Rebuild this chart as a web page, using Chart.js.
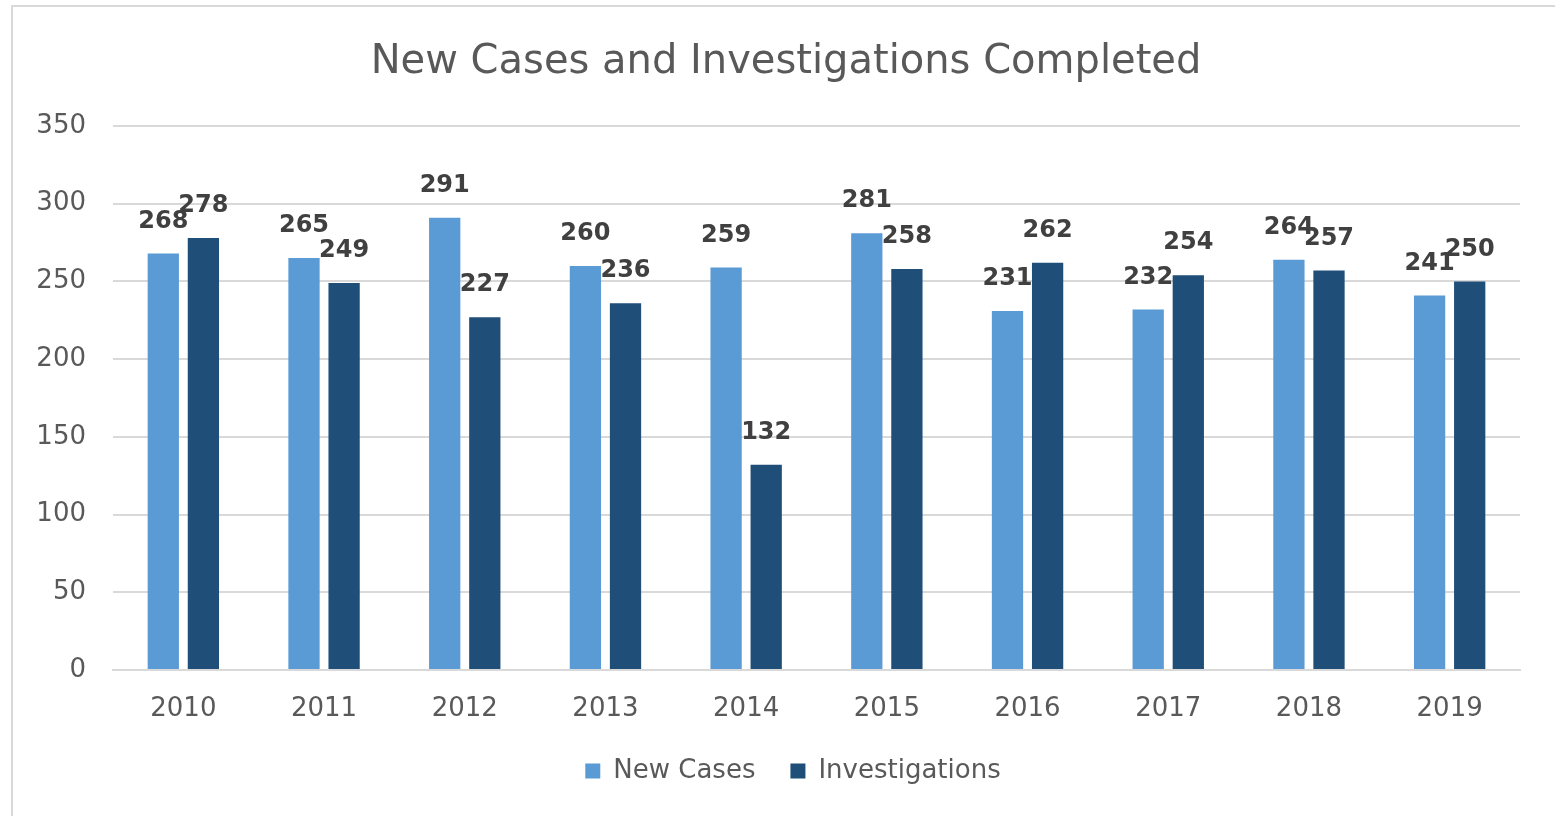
<!DOCTYPE html>
<html>
<head>
<meta charset="utf-8">
<script src="https://cdn.jsdelivr.net/npm/chart.js@4.4.0/dist/chart.umd.min.js"></script>
<style>
  html, body { margin: 0; padding: 0; background: #fff; }
  #box {
    position: absolute; left: 11px; top: 5px; width: 1560px; height: 830px;
    border: 2px solid #d9d9d9; box-sizing: border-box;
  }
  #wrap { position: absolute; left: 0; top: 0; width: 1555px; height: 816px; }
</style>
</head>
<body>
<div id="box"></div>
<div id="wrap"><canvas id="myChart"></canvas></div>
<script>
let years = ['2010','2011','2012','2013','2014','2015','2016','2017','2018','2019'];
let newCases = [268,265,291,260,259,281,231,232,264,241];
let investigations = [278,249,227,236,132,258,262,254,257,250];
let yTicks = [0,50,100,150,200,250,300,350];

let font = "'DejaVu Sans', sans-serif";

// value labels above each bar
let barLabels = {
  id: 'barLabels',
  afterDatasetsDraw(chart) {
    let c = chart.ctx;
    c.save();
    c.font = 'bold 24px ' + font;
    c.fillStyle = '#404040';
    c.textAlign = 'center';
    c.textBaseline = 'middle';
    chart.data.datasets.forEach((ds, i) => {
      chart.getDatasetMeta(i).data.forEach((bar, j) => {
        c.fillText(ds.data[j], bar.x, bar.y - 32);
      });
    });
    c.restore();
  }
};

// title sits a bit right of the canvas centre
let nudge = {
  id: 'nudge',
  afterUpdate(chart) {
    chart.titleBlock.left += 16;
    chart.titleBlock.right += 16;
  }
};

// legend drawn by hand below the x axis, centred like the original
let bottomLegend = {
  id: 'bottomLegend',
  afterDraw(chart) {
    let c = chart.ctx;
    c.save();
    c.font = '26px ' + font;
    c.textBaseline = 'middle';
    let items = chart.data.datasets.map(ds => ({ text: ds.label, color: ds.backgroundColor, w: c.measureText(ds.label).width }));
    let box = 15, gap = 13, space = 35;
    let total = items.reduce((s, it) => s + box + gap + it.w, 0) + space * (items.length - 1);
    let x = 793 - total / 2, y = 771;
    items.forEach(it => {
      c.fillStyle = it.color;
      c.fillRect(x, y - box / 2, box, box);
      c.fillStyle = '#595959';
      c.fillText(it.text, x + box + gap, y);
      x += box + gap + it.w + space;
    });
    c.restore();
  }
};

let ctx = document.getElementById('myChart').getContext('2d');
let myChart = new Chart(ctx, {
  type: 'bar',
  data: {
    labels: years,
    datasets: [
      { label: 'New Cases', data: newCases, backgroundColor: '#5b9bd5', borderColor: '#5b9bd5',
        categoryPercentage: 0.57, barPercentage: 0.78 },
      { label: 'Investigations', data: investigations, backgroundColor: '#1f4e79', borderColor: '#1f4e79',
        categoryPercentage: 0.57, barPercentage: 0.78 }
    ]
  },
  options: {
    responsive: true,
    maintainAspectRatio: false,
    animation: false,
    layout: { padding: { left: 20, right: 35, top: 0, bottom: 92 } },
    plugins: {
      title: {
        display: true,
        text: 'New Cases and Investigations Completed',
        color: '#595959',
        font: { family: font, size: 40, weight: 'normal' },
        padding: { top: 39, bottom: 39 }
      },
      legend: { display: false },
      tooltip: { enabled: false }
    },
    scales: {
      x: {
        grid: { display: false, drawTicks: false },
        border: { color: '#d9d9d9', width: 2 },
        ticks: { color: '#595959', font: { family: font, size: 26 }, padding: 24 },
        afterFit: s => { s.height = 54; }
      },
      y: {
        min: 0, max: 350,
        afterBuildTicks: s => { s.ticks = yTicks.map(v => ({ value: v })); },
        grid: { color: '#d9d9d9', lineWidth: 2, drawTicks: false },
        border: { display: false },
        ticks: { color: '#595959', font: { family: font, size: 26 }, padding: 27 },
        afterFit: s => { s.width = 93; }
      }
    }
  },
  plugins: [barLabels, nudge, bottomLegend]
});
</script>
</body>
</html>
